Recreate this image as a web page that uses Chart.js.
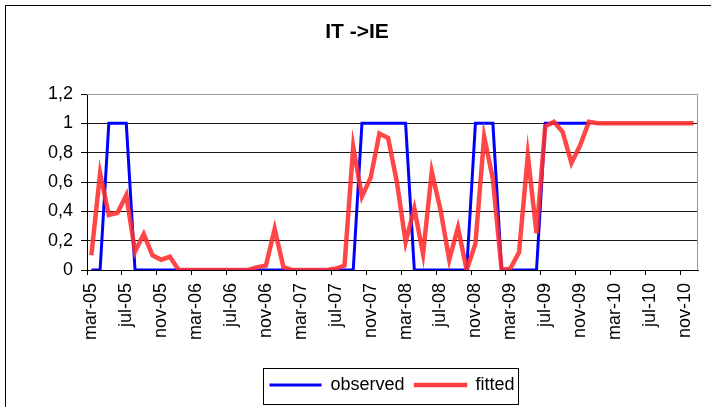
<!DOCTYPE html>
<html>
<head>
<meta charset="utf-8">
<title>IT ->IE</title>
<script src="https://cdn.jsdelivr.net/npm/chart.js@4.4.1/dist/chart.umd.min.js"></script>
<style>
    html, body {
        margin: 0;
        padding: 0;
        background: #fff;
        overflow: hidden;
        width: 711px;
        height: 407px;
    }
    #frame {
        position: absolute;
        left: 5px;
        top: 5px;
        width: 800px;
        height: 500px;
        border: 1px solid #000;
    }
    #ieChart {
        position: absolute;
        left: 0;
        top: 0;
    }
</style>
</head>
<body>
<div id="frame"></div>
<canvas id="ieChart" width="711" height="407"></canvas>
<script>
// Monthly categories, mar-05 .. dec-10
const months = [
    'mar-05', 'apr-05', 'may-05', 'jun-05', 'jul-05', 'aug-05', 'sep-05', 'oct-05', 'nov-05', 'dec-05',
    'jan-06', 'feb-06', 'mar-06', 'apr-06', 'may-06', 'jun-06', 'jul-06', 'aug-06', 'sep-06', 'oct-06', 'nov-06', 'dec-06',
    'jan-07', 'feb-07', 'mar-07', 'apr-07', 'may-07', 'jun-07', 'jul-07', 'aug-07', 'sep-07', 'oct-07', 'nov-07', 'dec-07',
    'jan-08', 'feb-08', 'mar-08', 'apr-08', 'may-08', 'jun-08', 'jul-08', 'aug-08', 'sep-08', 'oct-08', 'nov-08', 'dec-08',
    'jan-09', 'feb-09', 'mar-09', 'apr-09', 'may-09', 'jun-09', 'jul-09', 'aug-09', 'sep-09', 'oct-09', 'nov-09', 'dec-09',
    'jan-10', 'feb-10', 'mar-10', 'apr-10', 'may-10', 'jun-10', 'jul-10', 'aug-10', 'sep-10', 'oct-10', 'nov-10', 'dec-10'
];

const observed = [
    0, 0, 1, 1, 1, 0, 0, 0, 0, 0,
    0, 0, 0, 0, 0, 0, 0, 0, 0, 0, 0, 0,
    0, 0, 0, 0, 0, 0, 0, 0, 0, 1, 1, 1,
    1, 1, 1, 0, 0, 0, 0, 0, 0, 0, 1, 1,
    1, 0, 0, 0, 0, 0, 1, 1, 1, 1, 1, 1,
    null, null, null, null, null, null, null, null, null, null, null, null
];

const fitted = [
    0.10, 0.66, 0.375, 0.39, 0.51, 0.125, 0.245, 0.10, 0.07, 0.09,
    0, 0, 0, 0, 0, 0, 0, 0, 0, 0.02, 0.03, 0.28,
    0.02, 0, 0, 0, 0, 0, 0.01, 0.03, 0.84, 0.50, 0.63, 0.93,
    0.90, 0.60, 0.19, 0.42, 0.11, 0.67, 0.41, 0.07, 0.29, 0, 0.18, 0.91,
    0.62, 0, 0.01, 0.12, 0.78, 0.25, 0.98, 1.01, 0.94, 0.73, 0.85, 1.01,
    1, 1, 1, 1, 1, 1, 1, 1, 1, 1, 1, 1
];

const yTicks = [0, 0.2, 0.4, 0.6, 0.8, 1, 1.2];

const FONT = "'Liberation Sans', Arial, sans-serif";
Chart.defaults.color = '#000';
Chart.defaults.font.family = FONT;

// title and legend sit a little right of centre; legend gets a thin frame
const legendFrame = {
    id: 'legendFrame',
    afterLayout(chart) {
        chart.legend.left += 43;
        chart.legend.right += 43;
        chart.titleBlock.left += 8;
        chart.titleBlock.right += 8;
    },
    afterDraw(chart) {
        const boxes = chart.legend.legendHitBoxes;
        if (!boxes || !boxes.length) return;
        const first = boxes[0];
        const last = boxes[boxes.length - 1];
        const cy = first.top + first.height / 2;
        const ctx = chart.ctx;
        ctx.save();
        ctx.strokeStyle = '#000';
        ctx.lineWidth = 1;
        ctx.strokeRect(Math.round(first.left - 6) + 0.5, Math.round(cy - 17) + 0.5,
            Math.round(last.left + last.width - first.left + 10), 36);
        ctx.restore();
    }
};

// grey frame on the top and right of the plot area
const plotFrame = {
    id: 'plotFrame',
    beforeDatasetsDraw(chart) {
        const {left, top, right, bottom} = chart.chartArea;
        const ctx = chart.ctx;
        ctx.save();
        ctx.strokeStyle = '#9a9a9a';
        ctx.lineWidth = 1;
        ctx.beginPath();
        ctx.moveTo(left, Math.round(top) + 0.5);
        ctx.lineTo(Math.round(right) - 0.5, Math.round(top) + 0.5);
        ctx.lineTo(Math.round(right) - 0.5, bottom);
        ctx.stroke();
        ctx.restore();
    }
};

function legendLabels(chart) {
    const items = Chart.defaults.plugins.legend.labels.generateLabels(chart);
    items.forEach(item => {
        // thin blue bar, slightly heavier red one
        item.lineWidth = item.datasetIndex === 0 ? 0 : 1.5;
    });
    return items;
}

function initChart() {
    const ctx = document.getElementById('ieChart').getContext('2d');

    new Chart(ctx, {
        type: 'line',
        data: {
            labels: months,
            datasets: [{
                label: 'observed',
                data: observed,
                borderColor: '#0000ff',
                backgroundColor: '#0000ff',
                borderWidth: 3,
                pointRadius: 0,
                tension: 0,
                order: 1
            }, {
                label: 'fitted',
                data: fitted,
                borderColor: 'rgba(255, 45, 45, 0.88)',
                backgroundColor: 'rgba(255, 45, 45, 0.88)',
                borderWidth: 4.5,
                pointRadius: 0,
                tension: 0,
                order: 0
            }]
        },
        options: {
            responsive: false,
            animation: false,
            layout: {
                padding: {left: 0, right: 13, top: 0, bottom: 3}
            },
            plugins: {
                title: {
                    display: true,
                    text: 'IT ->IE',
                    font: {size: 21, weight: 'bold', family: FONT},
                    color: '#000',
                    padding: {top: 20, bottom: 48.8}
                },
                legend: {
                    position: 'bottom',
                    labels: {
                        boxWidth: 52,
                        boxHeight: 3,
                        padding: 10,
                        font: {size: 18, family: FONT},
                        generateLabels: legendLabels,
                        sort: (a, b) => a.datasetIndex - b.datasetIndex
                    }
                },
                tooltip: {enabled: false}
            },
            scales: {
                x: {
                    offset: true,
                    afterFit: (scale) => {
                        scale.height = 96;
                        scale.paddingLeft = 0;
                        scale.paddingRight = 0;
                    },
                    grid: {
                        offset: true,
                        drawOnChartArea: false,
                        drawTicks: true,
                        tickLength: 5,
                        color: (c) => (c.index % 4 === 0 ? '#000' : 'rgba(0,0,0,0)')
                    },
                    border: {color: '#000', width: 1},
                    ticks: {
                        autoSkip: false,
                        minRotation: 90,
                        maxRotation: 90,
                        padding: 8,
                        font: {size: 18, family: FONT},
                        callback: (value, index) => (index % 4 === 0 ? months[index] : '')
                    }
                },
                y: {
                    min: yTicks[0],
                    max: yTicks[yTicks.length - 1],
                    afterFit: (scale) => { scale.width = 87; },
                    afterBuildTicks: (scale) => {
                        scale.ticks = yTicks.map(v => ({value: v}));
                    },
                    grid: {
                        color: (c) => (c.tick && c.tick.value === 1.2 ? '#9a9a9a' : '#1a1a1a'),
                        tickColor: '#000',
                        tickLength: 6,
                        lineWidth: 1
                    },
                    border: {color: '#000', width: 1},
                    ticks: {
                        padding: 8,
                        font: {size: 18, family: FONT},
                        callback: (value) => String(Math.round(value * 10) / 10).replace('.', ',')
                    }
                }
            }
        },
        plugins: [legendFrame, plotFrame]
    });
}

document.addEventListener('DOMContentLoaded', () => {
    initChart();
});
</script>
</body>
</html>
